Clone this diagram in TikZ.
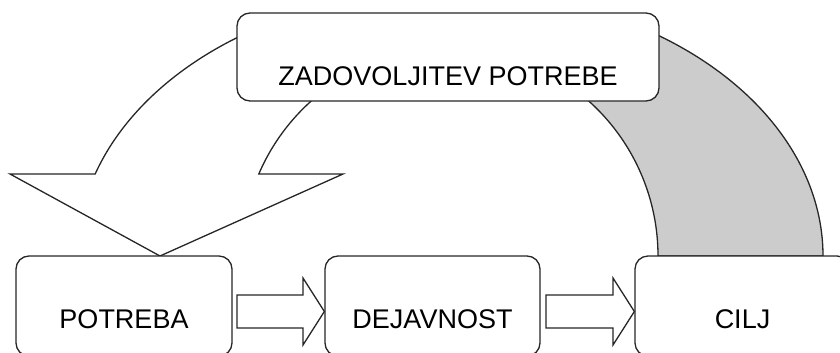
\documentclass[tikz,border=0pt]{standalone}
\usepackage{fontspec}
\setmainfont{Liberation Sans}
\usetikzlibrary{calc}
\definecolor{linec}{HTML}{262626}
\definecolor{grayfill}{HTML}{CCCCCC}
\begin{document}
\begin{tikzpicture}[x=1pt,y=1pt,
  line/.style={draw=linec, line width=1.3pt, line join=miter},
  box/.style={line, fill=white, rounded corners=13pt, inner sep=0pt, font=\fontsize{27}{32}\selectfont},
  topbox/.style={box, minimum width=422pt, minimum height=88pt, text height=56.4pt, text depth=0pt},
  lowbox/.style={box, minimum width=216pt, minimum height=100pt, text height=45.4pt, text depth=0pt},
  blockarrow/.style={line, fill=white}]
\useasboundingbox (0,0) rectangle (840,-353);
% grey block arc (goal -> satisfaction)
\draw[line, fill=grayfill] ($(450,-256)+(59.4:373 and 266)$)
  arc[start angle=59.4, end angle=0, x radius=373, y radius=266]
  -- (658,-256)
  arc[start angle=0, end angle=57.8, radius=208] -- cycle;
% curved block arrow (satisfaction -> need)
\draw[line, fill=white] ($(450,-256)+(120.6:373 and 266)$)
  arc[start angle=120.6, end angle=162.04, x radius=373, y radius=266]
  -- (10,-174) -- (160,-256) -- (343,-174) -- (258.8,-174)
  arc[start angle=156.8, end angle=122.2, radius=208] -- cycle;
% boxes
\node[topbox] (z) at (448,-57) {ZADOVOLJITEV POTREBE};
\node[lowbox] (p) at (124,-306) {POTREBA};
\node[lowbox, minimum width=215pt] (d) at (432.5,-306) {DEJAVNOST};
\node[lowbox, minimum width=215pt] (c) at (742.5,-306) {CILJ};
% straight block arrows
\draw[blockarrow] (237,-295) -- (303,-295) -- (303,-278) -- (d.west |- 0,-311.5)
  -- (303,-345) -- (303,-328) -- (237,-328) -- cycle;
\draw[blockarrow] (546,-295) -- (613,-295) -- (613,-278) -- (c.west |- 0,-311.5)
  -- (613,-345) -- (613,-328) -- (546,-328) -- cycle;
\end{tikzpicture}
\end{document}
